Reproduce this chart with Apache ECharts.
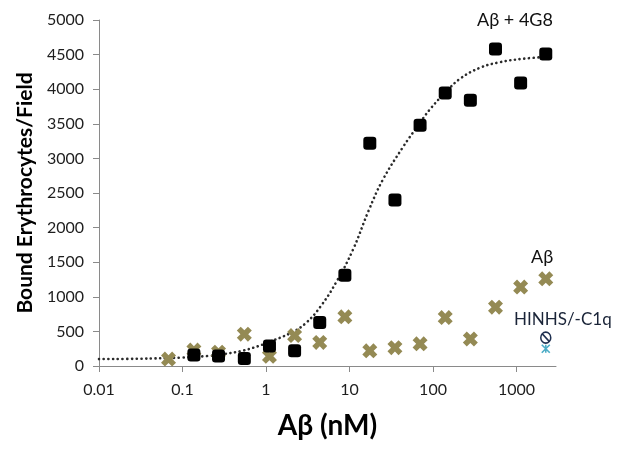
<!DOCTYPE html>
<html>
<head>
<meta charset="utf-8">
<script src="https://cdn.jsdelivr.net/npm/echarts@6/dist/echarts.min.js"></script>
<style>
html,body{margin:0;padding:0;background:#fff;}
#chart{width:632px;height:452px;}
</style>
</head>
<body>
<div id="chart"></div>
<script>
// Concentrations (nM), two-fold dilutions
var concAb4G8 = [0.137, 0.27, 0.55, 1.1, 2.2, 4.4, 8.8, 17.5, 35, 70, 140, 280, 560, 1120, 2240];
var boundAb4G8 = [160, 145, 110, 290, 220, 630, 1310, 3220, 2400, 3480, 3945, 3840, 4580, 4090, 4510];

var concAb = [0.068, 0.137, 0.27, 0.55, 1.1, 2.2, 4.4, 8.8, 17.5, 35, 70, 140, 280, 560, 1120, 2240];
var boundAb = [100, 230, 200, 460, 140, 440, 340, 710, 220, 265, 320, 700, 390, 850, 1140, 1260];

var concHinhsCircle = [2240];
var boundHinhsCircle = [410];
var concHinhsStar = [2240];
var boundHinhsStar = [250];

// Fitted curve
var curveX = [0.01, 0.03, 0.1, 0.2, 0.3, 0.5, 0.8, 1, 2, 3, 4.5, 7, 11, 17, 25, 44, 64, 92, 140, 210, 365, 630, 1200, 2500];
var curveY = [100, 105, 122, 145, 170, 215, 285, 330, 480, 620, 860, 1220, 1680, 2250, 2690, 3170, 3450, 3710, 3950, 4150, 4310, 4390, 4440, 4470];

var xTickLabels = [0.01, 0.1, 1, 10, 100, 1000];
var yTickLabels = [0, 500, 1000, 1500, 2000, 2500, 3000, 3500, 4000, 4500, 5000];

function zip(a, b) { return a.map(function (v, i) { return [v, b[i]]; }); }

var FONT = 'Lato';
var axisColor = '#8a8a8a';
var labelColor = '#1e1e1e';

var chart = echarts.init(document.getElementById('chart'), null, {renderer: 'canvas'});
chart.setOption({
  backgroundColor: '#ffffff',
  animation: false,
  grid: {left: 99, right: 76, top: 20, bottom: 86, containLabel: false},
  xAxis: {
    type: 'log',
    logBase: 10,
    min: 0.01,
    max: 2970,
    splitLine: {show: false},
    axisLine: {show: true, onZero: false, lineStyle: {color: axisColor, width: 1}},
    axisTick: {show: true, inside: false, length: 6, lineStyle: {color: axisColor}, customValues: xTickLabels},
    axisLabel: {
      show: true, margin: 16, color: labelColor, fontFamily: FONT, fontSize: 16,
      customValues: xTickLabels,
      formatter: function (v) { return String(parseFloat(Number(v).toPrecision(6))); }
    },
    name: 'Aβ (nM)',
    nameLocation: 'middle',
    nameGap: 46,
    nameTextStyle: {fontFamily: FONT, fontWeight: 'bold', fontSize: 28, color: '#000'}
  },
  yAxis: {
    type: 'value',
    min: yTickLabels[0],
    max: yTickLabels[yTickLabels.length - 1],
    interval: 500,
    splitLine: {show: false},
    axisLine: {show: true, lineStyle: {color: axisColor, width: 1}},
    axisTick: {show: true, inside: false, length: 6, lineStyle: {color: axisColor}},
    axisLabel: {
      show: true, margin: 15, color: labelColor, fontFamily: FONT, fontSize: 16,
      formatter: function (v) { return String(v); }
    },
    name: 'Bound Erythrocytes/Field',
    nameLocation: 'middle',
    nameGap: 58,
    nameTextStyle: {fontFamily: FONT, fontWeight: 'bold', fontSize: 21, color: '#000'}
  },
  series: [
    {
      name: 'fit', type: 'line', smooth: 0.4, showSymbol: false, symbol: 'none',
      data: zip(curveX, curveY),
      lineStyle: {color: '#2b2b2b', width: 2.6, type: [0.1, 4.6], cap: 'round'},
      z: 2, silent: true
    },
    {
      name: 'Aβ', type: 'scatter',
      symbol: 'path://M2.6,0 L5,2.4 L7.4,0 L10,2.6 L7.6,5 L10,7.4 L7.4,10 L5,7.6 L2.6,10 L0,7.4 L2.4,5 L0,2.6 Z',
      symbolSize: 15,
      itemStyle: {color: '#948a54', opacity: 1},
      data: zip(concAb, boundAb), z: 3
    },
    {
      name: 'HINHS circle', type: 'scatter',
      symbol: 'path://M0,5 A5,5 0 1,1 10,5 A5,5 0 1,1 0,5 Z M1.6,1.6 L8.4,8.4',
      symbolSize: [10, 11],
      itemStyle: {color: '#ffffff', borderColor: '#1f3050', borderWidth: 1.6, opacity: 1},
      data: zip(concHinhsCircle, boundHinhsCircle), z: 3
    },
    {
      name: 'HINHS star', type: 'scatter',
      symbol: 'path://M0,0 L10,10 M10,0 L0,10 M5,0 L5,10',
      symbolSize: 8,
      itemStyle: {color: 'rgba(0,0,0,0)', borderColor: '#4bacc6', borderWidth: 1.6, opacity: 1},
      data: zip(concHinhsStar, boundHinhsStar), z: 3
    },
    {
      name: 'Aβ + 4G8', type: 'scatter', symbol: 'roundRect', symbolSize: 13,
      itemStyle: {color: '#000000', opacity: 1},
      data: zip(concAb4G8, boundAb4G8), z: 4
    }
  ],
  graphic: [
    {type: 'text', left: 477, top: 11, style: {text: 'Aβ + 4G8', fontFamily: FONT, fontSize: 18, fill: '#111'}},
    {type: 'text', left: 531, top: 248, style: {text: 'Aβ', fontFamily: FONT, fontSize: 18, fill: '#111'}},
    {type: 'text', left: 514, top: 311, style: {text: 'HINHS/-C1q', fontFamily: FONT, fontSize: 17, fill: '#1a2438'}}
  ]
});
</script>
</body>
</html>
